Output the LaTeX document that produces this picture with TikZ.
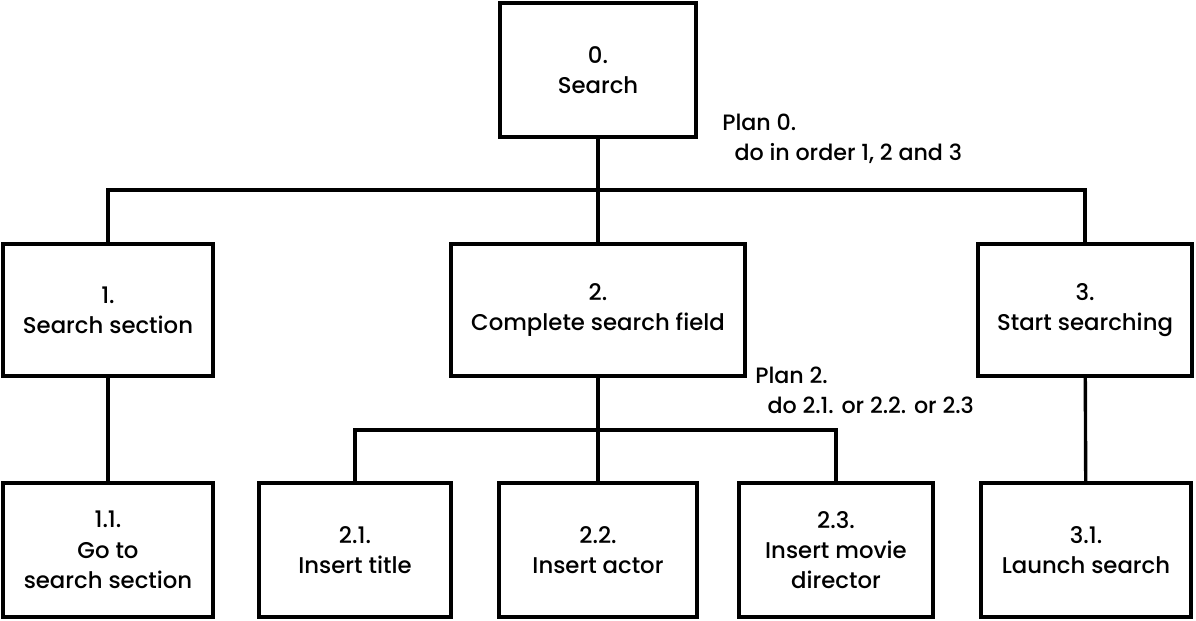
\documentclass[tikz,border=0pt]{standalone}
\usepackage{fontspec}
\setmainfont{Poppins}[UprightFont={* Medium}]
\usetikzlibrary{positioning}

\tikzset{
  task/.style={draw, line width=2.6pt, align=center, inner sep=0pt,
    font=\fontsize{16.2}{21.5}\selectfont},
  plan/.style={align=left, anchor=north west, inner sep=0pt,
    font=\fontsize{15.8}{21}\selectfont},
  link/.style={line width=2.4pt}
}

\begin{document}
\begin{tikzpicture}[x=0.025cm,y=-0.025cm]
            \useasboundingbox (0,0) rectangle (1196,620);

            % draw the top task
            \node[task, minimum width=4.9cm, minimum height=3.35cm] (s0) at (598,70) {0.\\Search};

            % draw the first level
            \node[task, minimum width=5.25cm, minimum height=3.3cm] (s1) at (108,310) {1.\\Search section};
            \node[task, minimum width=7.35cm, minimum height=3.3cm] (s2) at (598,310) {2.\\Complete search field};
            \node[task, minimum width=5.35cm, minimum height=3.3cm] (s3) at (1085,310) {3.\\Start searching};

            % draw the second level
            \node[task, minimum width=5.25cm, minimum height=3.35cm] (s11) at (108,550) {1.1.\\Go to\\search section};
            \node[task, minimum width=4.8cm, minimum height=3.35cm] (s21) at (355,550) {2.1.\\Insert title};
            \node[task, minimum width=4.95cm, minimum height=3.35cm] (s22) at (598,550) {2.2.\\Insert actor};
            \node[task, minimum width=4.85cm, minimum height=3.35cm] (s23) at (836,550) {2.3.\\Insert movie\\director};
            \node[task, minimum width=5.25cm, minimum height=3.35cm] (s31) at (1086,550) {3.1.\\Launch search};

            % bus points
            \coordinate (b0) at (598,190);
            \coordinate (b2) at (598,430);

            % draw the connectors
            \draw[link] (s0) -- (b0);
            \draw[link] (s1.north) |- (b0) -| (s3.north);
            \draw[link] (b0) -- (s2.north);
            \draw[link] (s2) -- (b2);
            \draw[link] (s21.north) |- (b2) -| (s23.north);
            \draw[link] (b2) -- (s22.north);
            \draw[link] (s1) -- (s11);
            \draw[link] (s3) -- (s31);

            % text of the plans
            \node[plan] (p0) at (722,114) {Plan 0.\\\hspace{0.55em}do in order 1, 2 and 3};
            \node[plan] (p2) at (755,367) {Plan 2.\\\hspace{0.55em}do 2.1. or 2.2. or 2.3};
        \end{tikzpicture}
\end{document}
